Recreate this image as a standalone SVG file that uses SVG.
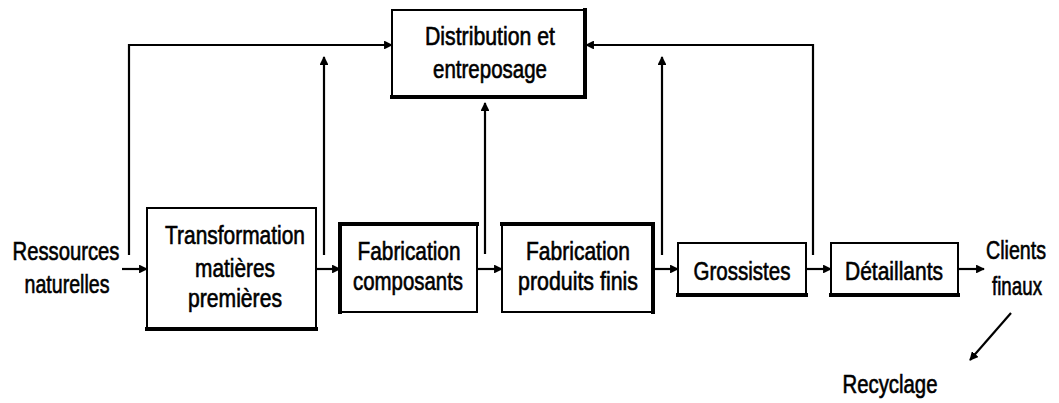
<svg xmlns="http://www.w3.org/2000/svg" width="1059" height="403" viewBox="0 0 1059 403">
  <style>
    .box { fill: #fff; stroke: #000; stroke-width: 2; }
    .edge { stroke: #000; stroke-width: 4; stroke-linecap: square; fill: none; }
    .line { stroke: #000; stroke-width: 2.2; fill: none; }
    text { font-family: "Liberation Sans", Arial, sans-serif; font-size: 25px; fill: #000; stroke: #000; stroke-width: 0.6; }
  </style>
  <defs>
    <marker id="arrow" viewBox="0 0 10 10" refX="9" refY="5" markerWidth="4" markerHeight="4" orient="auto" markerUnits="strokeWidth">
      <path d="M0,0 L10,5 L0,10 Z" fill="#000"/>
    </marker>
  </defs>

  <!-- connectors -->
  <g id="connectors">
    <!-- main flow -->
    <line class="line" x1="122" y1="269" x2="147" y2="269" marker-end="url(#arrow)"/>
    <line class="line" x1="316" y1="269" x2="340" y2="269" marker-end="url(#arrow)"/>
    <line class="line" x1="477" y1="269" x2="502" y2="269" marker-end="url(#arrow)"/>
    <line class="line" x1="653" y1="269" x2="678" y2="269" marker-end="url(#arrow)"/>
    <line class="line" x1="806" y1="269" x2="831" y2="269" marker-end="url(#arrow)"/>
    <line class="line" x1="958" y1="269" x2="984" y2="269" marker-end="url(#arrow)"/>
    <!-- feeds into distribution -->
    <polyline class="line" points="129,255 129,45 392,45" marker-end="url(#arrow)"/>
    <line class="line" x1="324" y1="255" x2="324" y2="57" marker-end="url(#arrow)"/>
    <line class="line" x1="485" y1="254" x2="485" y2="103" marker-end="url(#arrow)"/>
    <line class="line" x1="662" y1="255" x2="662" y2="57" marker-end="url(#arrow)"/>
    <polyline class="line" points="813,255 813,45 586,45" marker-end="url(#arrow)"/>
    <!-- recycling -->
    <line class="line" x1="1011" y1="313" x2="970" y2="360" marker-end="url(#arrow)"/>
  </g>

  <g id="n-distribution">
    <rect class="box" x="392" y="10" width="193" height="87"/>
    <polyline class="edge" points="392,97 585,97 585,10"/>
    <text x="490" y="45" text-anchor="middle" textLength="130" lengthAdjust="spacingAndGlyphs">Distribution et</text>
    <text x="490" y="78" text-anchor="middle" textLength="114" lengthAdjust="spacingAndGlyphs">entreposage</text>
  </g>

  <g id="n-ressources">
    <text x="66" y="260" text-anchor="middle" textLength="107" lengthAdjust="spacingAndGlyphs">Ressources</text>
    <text x="67" y="293" text-anchor="middle" textLength="85" lengthAdjust="spacingAndGlyphs">naturelles</text>
  </g>

  <g id="n-transformation">
    <rect class="box" x="147" y="208" width="169" height="121"/>
    <line class="edge" x1="147" y1="329" x2="316" y2="329"/>
    <text x="235" y="244" text-anchor="middle" textLength="140" lengthAdjust="spacingAndGlyphs">Transformation</text>
    <text x="235" y="277" text-anchor="middle" textLength="80" lengthAdjust="spacingAndGlyphs">matières</text>
    <text x="235" y="307" text-anchor="middle" textLength="94" lengthAdjust="spacingAndGlyphs">premières</text>
  </g>

  <g id="n-fab-composants">
    <rect class="box" x="340" y="224" width="137" height="88"/>
    <polyline class="edge" points="340,312 340,224 477,224"/>
    <text x="409" y="260" text-anchor="middle" textLength="103" lengthAdjust="spacingAndGlyphs">Fabrication</text>
    <text x="408" y="290" text-anchor="middle" textLength="110" lengthAdjust="spacingAndGlyphs">composants</text>
  </g>

  <g id="n-fab-produits">
    <rect class="box" x="502" y="224" width="151" height="88"/>
    <polyline class="edge" points="502,224 653,224 653,312"/>
    <text x="578" y="260" text-anchor="middle" textLength="104" lengthAdjust="spacingAndGlyphs">Fabrication</text>
    <text x="578" y="290" text-anchor="middle" textLength="120" lengthAdjust="spacingAndGlyphs">produits finis</text>
  </g>

  <g id="n-grossistes">
    <rect class="box" x="678" y="243" width="128" height="52"/>
    <line class="edge" x1="678" y1="295" x2="806" y2="295"/>
    <text x="742" y="280" text-anchor="middle" textLength="97" lengthAdjust="spacingAndGlyphs">Grossistes</text>
  </g>

  <g id="n-detaillants">
    <rect class="box" x="831" y="243" width="127" height="52"/>
    <line class="edge" x1="831" y1="295" x2="958" y2="295"/>
    <text x="894" y="280" text-anchor="middle" textLength="98" lengthAdjust="spacingAndGlyphs">Détaillants</text>
  </g>

  <g id="n-clients">
    <text x="1016" y="259" text-anchor="middle" textLength="60" lengthAdjust="spacingAndGlyphs">Clients</text>
    <text x="1017" y="295" text-anchor="middle" textLength="50" lengthAdjust="spacingAndGlyphs">finaux</text>
  </g>

  <g id="n-recyclage">
    <text x="890" y="393" text-anchor="middle" textLength="95" lengthAdjust="spacingAndGlyphs">Recyclage</text>
  </g>
</svg>
